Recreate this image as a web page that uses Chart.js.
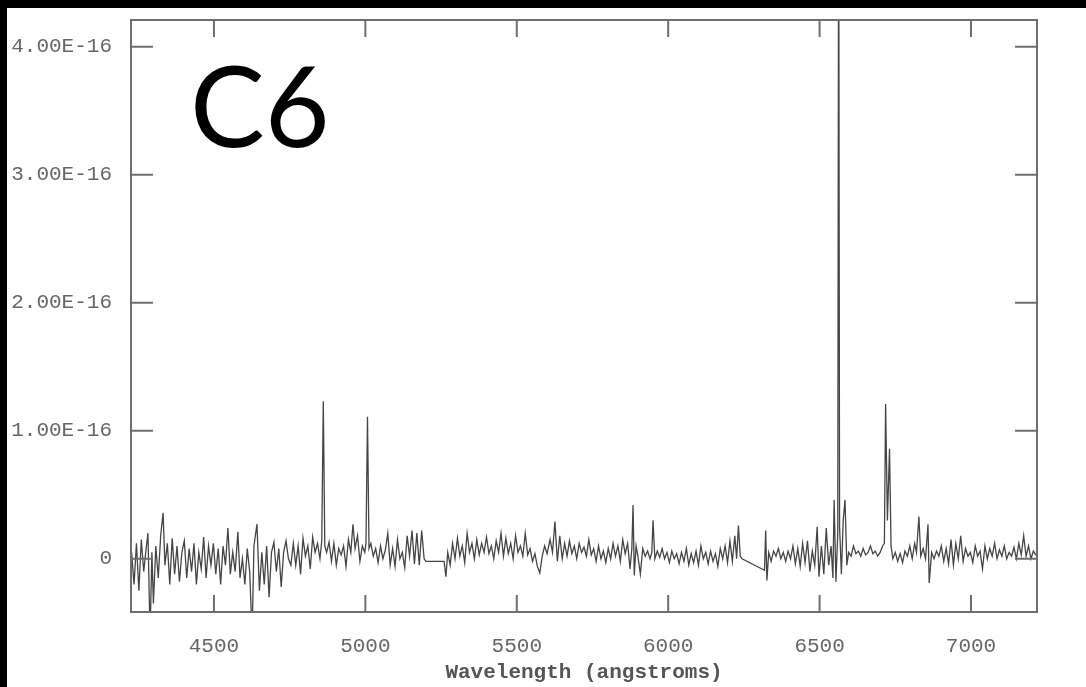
<!DOCTYPE html>
<html>
<head>
<meta charset="utf-8">
<script src="https://cdn.jsdelivr.net/npm/chart.js@4/dist/chart.umd.min.js"></script>
<style>
  body { margin: 0; background: #000; }
  #wrap { position: absolute; left: 7px; top: 8px; width: 1079px; height: 679px; background: #fff; }
  #label { position: absolute; left: 183px; top: 40px; font-family: Lato, sans-serif; font-size: 112px; color: #000; line-height: 1; }
</style>
</head>
<body>
<div id="wrap">
  <canvas id="chart" width="1079" height="679"></canvas>
  <div id="label">C6</div>
</div>
<script>
// flux in units of 1e-16
const wavelength = [
  4228,4236,4244,4252,4260,4268,4276,4282,4289,4295,4300,4308,4316,4324,4332,4338,4346,4354,4362,4370,
  4378,4386,4394,4402,4410,4418,4426,4434,4442,4450,4458,4466,4474,4482,4490,4498,4506,4514,4522,4530,
  4538,4546,4554,4562,4570,4579,4586,4594,4602,4610,4618,4626,4632,4642,4650,4658,4666,4674,4682,4690,
  4698,4706,4714,4722,4730,4738,4746,4754,4762,4770,4778,4786,4794,4802,4810,4818,4826,4834,4842,4850,
  4856,4861,4866,4872,4880,4888,4896,4904,4912,4920,4928,4936,4944,4952,4959,4966,4974,4982,4990,4998,
  5002,5007,5012,5018,5026,5034,5042,5050,5058,5066,5074,5082,5090,5098,5106,5114,5122,5130,5138,5146,
  5154,5162,5170,5178,5186,5194,5200,5260,5266,5272,5280,5288,5296,5304,5312,5320,5328,5336,5344,5352,
  5360,5368,5376,5384,5392,5400,5408,5416,5424,5432,5440,5448,5456,5464,5472,5480,5488,5496,5504,5512,
  5520,5528,5536,5544,5552,5560,5568,5576,5584,5592,5600,5610,5618,5626,5634,5642,5650,5658,5666,5674,
  5682,5690,5698,5706,5714,5722,5730,5738,5746,5754,5762,5770,5778,5786,5794,5802,5810,5818,5826,5834,
  5842,5850,5858,5866,5874,5880,5884,5888,5894,5900,5908,5916,5924,5932,5940,5946,5950,5956,5964,5972,
  5980,5988,5996,6004,6012,6020,6028,6036,6044,6052,6060,6068,6076,6084,6092,6100,6108,6116,6124,6132,
  6140,6148,6156,6164,6172,6180,6188,6196,6204,6212,6220,6226,6232,6238,6244,6318,6322,6326,6332,6340,
  6348,6356,6364,6372,6380,6388,6396,6404,6412,6420,6428,6436,6444,6452,6460,6468,6476,6484,6492,6498,
  6506,6514,6522,6530,6538,6544,6548,6554,6560,6563,6566,6572,6578,6584,6590,6596,6604,6612,6620,6628,
  6636,6644,6652,6660,6668,6676,6684,6692,6700,6708,6714,6718,6724,6731,6736,6742,6750,6758,6766,6774,
  6782,6790,6798,6806,6814,6820,6828,6834,6842,6850,6858,6862,6870,6878,6886,6894,6902,6910,6918,6926,
  6934,6942,6950,6958,6966,6974,6982,6990,6998,7006,7014,7022,7030,7038,7046,7054,7062,7070,7078,7086,
  7094,7102,7110,7118,7126,7134,7142,7150,7158,7166,7174,7182,7190,7198,7206,7214,7220
];
const flux = [
  0.05,-0.2,0.12,-0.25,0.15,-0.1,0.08,0.2,-0.6,0.05,-0.35,0.1,-0.15,0.18,0.36,-0.05,0.12,-0.2,0.16,-0.12,
  0.1,-0.18,0.05,0.14,-0.15,0.08,-0.1,0.12,-0.2,0.05,-0.08,0.17,-0.15,0.1,-0.05,0.12,-0.12,0.08,-0.2,0.1,
  -0.05,0.24,-0.12,0.05,-0.1,0.21,-0.15,0.0,-0.2,0.08,-0.1,-0.6,0.1,0.27,-0.25,0.05,-0.2,0.1,-0.3,0.05,
  0.13,-0.1,0.08,-0.22,0.05,0.14,0.0,-0.05,0.12,-0.05,0.1,-0.12,0.16,0.02,0.1,-0.08,0.17,0.05,0.12,0.0,
  0.14,1.23,0.1,0.05,0.13,-0.02,0.12,-0.05,0.08,0.03,0.1,-0.06,0.15,0.05,0.27,0.08,0.18,-0.02,0.1,0.05,
  0.12,1.11,0.08,0.12,0.02,0.08,-0.03,0.1,0.0,0.07,0.2,-0.05,0.08,-0.06,0.15,0.0,0.05,-0.07,0.18,0.02,
  0.22,-0.04,0.2,-0.05,0.22,0.0,-0.02,-0.02,-0.14,0.05,-0.05,0.12,0.0,0.16,0.02,0.1,-0.03,0.2,0.05,0.12,
  0.0,0.15,0.03,0.12,0.05,0.17,0.04,0.1,0.0,0.14,0.05,0.2,0.02,0.16,0.04,0.12,0.0,0.18,0.05,0.1,
  0.02,0.2,0.03,0.08,-0.02,0.04,-0.06,-0.11,0.02,0.1,0.04,0.15,0.05,0.29,-0.02,0.18,0.0,0.12,0.02,0.14,
  0.04,0.1,0.0,0.12,0.05,0.09,0.02,0.15,0.03,0.08,-0.02,0.1,0.0,0.06,-0.03,0.08,0.0,0.12,0.02,0.1,
  -0.02,0.15,0.04,0.12,-0.08,0.08,0.42,-0.13,0.1,0.02,-0.12,0.08,0.02,0.06,0.0,0.05,0.3,0.0,0.06,0.01,
  0.08,0.0,0.05,-0.03,0.06,0.0,0.04,-0.04,0.05,-0.02,0.08,-0.05,0.04,-0.03,0.06,-0.05,0.1,0.0,0.05,-0.04,
  0.06,-0.02,0.04,-0.06,0.08,0.0,0.1,-0.03,0.14,-0.02,0.18,0.0,0.26,0.02,0.0,-0.09,0.22,-0.17,0.05,-0.02,
  0.06,0.02,0.08,0.0,0.05,-0.02,0.06,0.0,0.1,-0.04,0.08,-0.06,0.12,-0.03,0.14,-0.1,0.06,-0.05,0.25,-0.14,
  0.1,-0.12,0.24,-0.05,0.1,-0.15,0.46,-0.18,0.2,5.5,0.25,-0.12,0.3,0.46,-0.05,0.05,0.02,0.1,0.04,0.06,
  0.02,0.08,0.03,0.05,0.1,0.04,0.06,0.02,0.05,0.1,0.12,1.21,0.3,0.86,0.1,0.0,0.05,-0.02,0.04,-0.03,
  0.06,0.02,0.1,0.0,0.12,0.05,0.33,0.02,0.08,0.0,0.27,-0.19,0.05,0.0,0.06,0.02,0.1,-0.02,0.08,-0.04,
  0.15,-0.05,0.12,0.0,0.18,-0.02,0.08,0.02,0.05,-0.03,0.1,0.02,0.06,-0.08,0.1,0.0,0.08,0.02,0.12,0.0,
  0.07,0.02,0.1,0.0,0.05,0.02,0.09,0.0,0.12,0.03,0.18,0.02,0.1,0.0,0.06,0.03,0.03
];
const xTicks = [4500, 5000, 5500, 6000, 6500, 7000];
const yTicks = [0, 1, 2, 3, 4];
const yTickLabels = ['0', '1.00E-16', '2.00E-16', '3.00E-16', '4.00E-16'];

const tickFont = { family: 'Liberation Mono', size: 21 };
const frameColor = '#6e6e6e';

const framePlugin = {
  id: 'frame',
  afterDatasetsDraw(chart) {
    const { ctx, chartArea: a, scales: { x, y } } = chart;
    ctx.save();
    ctx.strokeStyle = frameColor;
    ctx.lineWidth = 2;
    ctx.strokeRect(a.left, a.top, a.right - a.left, a.bottom - a.top);
    ctx.beginPath();
    xTicks.forEach(v => {
      const px = x.getPixelForValue(v);
      ctx.moveTo(px, a.bottom); ctx.lineTo(px, a.bottom - 17);
      ctx.moveTo(px, a.top); ctx.lineTo(px, a.top + 17);
    });
    yTicks.forEach(v => {
      const py = y.getPixelForValue(v);
      ctx.moveTo(a.left, py); ctx.lineTo(a.left + 22, py);
      ctx.moveTo(a.right, py); ctx.lineTo(a.right - 22, py);
    });
    ctx.stroke();
    ctx.restore();
  }
};

new Chart(document.getElementById('chart'), {
  type: 'line',
  data: {
    datasets: [{
      data: wavelength.map((w, i) => ({ x: w, y: flux[i] })),
      borderColor: '#454545',
      borderWidth: 1.3,
      pointRadius: 0,
      tension: 0
    }]
  },
  options: {
    responsive: false,
    animation: false,
    devicePixelRatio: 1,
    layout: { padding: { top: 12, right: 49, left: 0, bottom: 0 } },
    plugins: { legend: { display: false }, tooltip: { enabled: false } },
    scales: {
      x: {
        type: 'linear',
        min: 4226,
        max: 7218,
        afterBuildTicks: s => { s.ticks = xTicks.map(v => ({ value: v })); },
        afterFit: s => { s.height = 75; s.paddingLeft = 0; s.paddingRight = 0; },
        grid: { display: false },
        border: { display: false },
        ticks: { font: tickFont, color: '#666', padding: 14, maxRotation: 0, autoSkip: false, callback: v => String(v) },
        title: {
          display: true,
          text: 'Wavelength (angstroms)',
          font: { family: 'Liberation Mono', size: 21, weight: 'bold' },
          color: '#555',
          padding: { top: 0, bottom: 2 }
        }
      },
      y: {
        min: -0.416,
        max: 4.21,
        afterBuildTicks: s => { s.ticks = yTicks.map(v => ({ value: v })); },
        afterFit: s => { s.width = 124; s.paddingTop = 0; s.paddingBottom = 0; },
        grid: { display: false },
        border: { display: false },
        ticks: {
          font: tickFont,
          color: '#666',
          padding: 11,
          callback: (v) => yTickLabels[yTicks.indexOf(v)]
        }
      }
    }
  },
  plugins: [framePlugin]
});
</script>
</body>
</html>
